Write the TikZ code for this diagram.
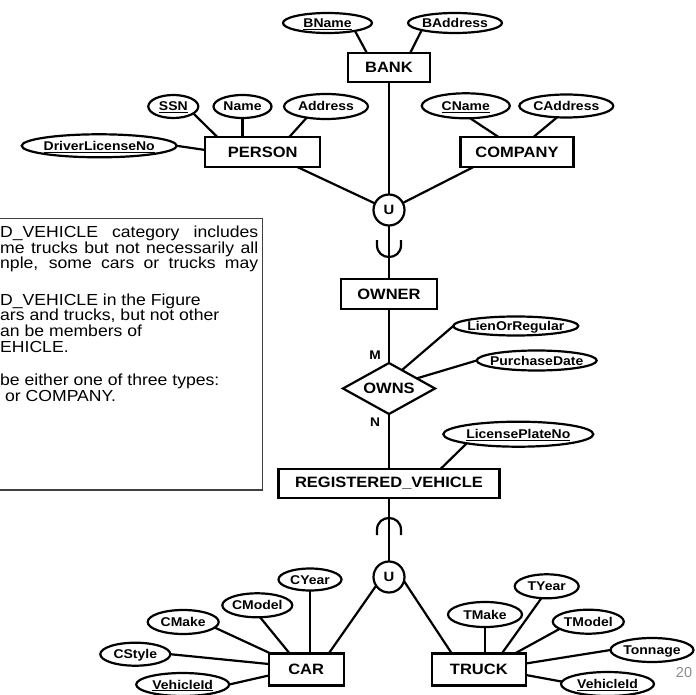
\documentclass[tikz,border=0pt]{standalone}
\usepackage{fontspec}
\setmainfont{Liberation Sans}[FakeStretch=1.1]
\newfontfamily\plainsans{Liberation Sans}
\usetikzlibrary{shapes.geometric,calc}
\newcommand{\zb}[1]{\makebox[0pt]{\raisebox{0pt}[9pt][0pt]{#1}}}
\tikzset{
  ent/.style={draw, line width=2.2pt, rectangle, inner sep=0pt, outer sep=0pt, fill=white,
    font=\fontsize{15}{17}\selectfont\bfseries},
  attr/.style={draw, line width=2.2pt, ellipse, inner sep=0pt, outer sep=0pt, fill=white,
    font=\fontsize{12.7}{14}\selectfont\bfseries},
  conn/.style={line width=2.2pt},
  uni/.style={draw, circle, line width=2.2pt, minimum size=31pt, inner sep=0pt, outer sep=0pt, fill=white,
    font=\fontsize{13.5}{15}\selectfont\bfseries},
  rel/.style={draw, diamond, aspect=1.8, line width=2.2pt, inner sep=0pt, outer sep=0pt, fill=white,
    minimum width=92pt, minimum height=51pt, font=\fontsize{15}{17}\selectfont\bfseries},
  card/.style={inner sep=0pt, font=\fontsize{12.5}{14}\selectfont\bfseries},
  notetext/.style={inner sep=0pt, anchor=base west, font=\fontsize{16}{18}\selectfont},
  notebox/.style={draw=black!75, line width=1.2pt},
  pagenum/.style={inner sep=0pt, text=black!45, font=\plainsans\fontsize{14.5}{16}\selectfont}
}
\begin{document}
\begin{tikzpicture}[x=1pt,y=-1pt]
\useasboundingbox (0,0) rectangle (696,695);

% note box (cut at the left edge)
\draw[notebox] (-10,218.3) -- (262.3,218.3) -- (262.3,490) -- (-10,490);
\node[notetext] (n1) at (0,237.3) {\makebox[258pt][s]{D\_VEHICLE category includes}};
\node[notetext] (n2) at (0,253.2) {\makebox[258pt][s]{me trucks but not necessarily all}};
\node[notetext] (n3) at (0,269) {\makebox[258pt][s]{nple, some cars or trucks may}};
\node[notetext] (n4) at (0,305) {D\_VEHICLE in the Figure};
\node[notetext] (n5) at (0,320.8) {ars and trucks, but not other};
\node[notetext] (n6) at (0,336.6) {an be members of};
\node[notetext] (n7) at (0,352.4) {EHICLE.};
\node[notetext] (n8) at (0,385.8) {be either one of three types:};
\node[notetext] (n9) at (5,401.7) {or COMPANY.};

% entities
\node[ent, minimum width=82pt, minimum height=28.5pt] (BANK) at (389,67.5) {BANK};
\node[ent, minimum width=115pt, minimum height=30pt] (PERSON) at (262.8,152) {PERSON};
\node[ent, minimum width=113pt, minimum height=30pt] (COMPANY) at (517,152) {COMPANY};
\node[ent, minimum width=96pt, minimum height=30pt] (OWNER) at (389,294.3) {OWNER};
\node[ent, minimum width=221pt, minimum height=29pt] (RV) at (389,483.5) {REGISTERED\_VEHICLE};
\node[ent, minimum width=75pt, minimum height=32pt] (CAR) at (306.2,669.5) {CAR};
\node[ent, minimum width=94pt, minimum height=32pt] (TRUCK) at (478.8,669.5) {TRUCK};

% union circles and relationship
\node[uni] (U1) at (389,210) {U};
\node[uni] (U2) at (389,577) {U};
\node[rel] (OWNS) at (389,388.5) {OWNS};
\node[card] (M) at (375,355) {M};
\node[card] (N) at (375,422.3) {N};

% attributes
\node[attr, minimum width=89pt, minimum height=20pt] (BName) at (327.5,23) {\zb{\underline{BName}}};
\node[attr, minimum width=94pt, minimum height=20pt] (BAddress) at (455,23) {\zb{BAddress}};
\node[attr, minimum width=50pt, minimum height=23pt] (SSN) at (173.3,106.5) {\zb{\underline{SSN}}};
\node[attr, minimum width=58pt, minimum height=23pt] (Name) at (242.5,106.5) {\zb{Name}};
\node[attr, minimum width=84pt, minimum height=25pt] (Address) at (326,106.5) {\zb{Address}};
\node[attr, minimum width=155pt, minimum height=23pt] (DLN) at (99.2,145.8) {\zb{\underline{DriverLicenseNo}}};
\node[attr, minimum width=88pt, minimum height=25pt] (CName) at (465.8,105.8) {\zb{\underline{CName}}};
\node[attr, minimum width=94pt, minimum height=23pt] (CAddress) at (566.3,106) {\zb{CAddress}};
\node[attr, minimum width=125pt, minimum height=19pt] (LOR) at (515.8,326) {\zb{LienOrRegular}};
\node[attr, minimum width=120pt, minimum height=20pt] (PD) at (536.7,360.5) {\zb{PurchaseDate}};
\node[attr, minimum width=150pt, minimum height=25pt] (LPN) at (518.3,434.2) {\zb{\underline{LicensePlateNo}}};
\node[attr, minimum width=63pt, minimum height=22pt] (CYear) at (310,579.5) {\zb{CYear}};
\node[attr, minimum width=70pt, minimum height=24pt] (CModel) at (257.3,605.3) {\zb{CModel}};
\node[attr, minimum width=71pt, minimum height=24pt] (CMake) at (183.2,622) {\zb{CMake}};
\node[attr, minimum width=70pt, minimum height=23pt] (CStyle) at (135.3,654.2) {\zb{CStyle}};
\node[attr, minimum width=93pt, minimum height=23pt] (VIdC) at (182.7,684.5) {\zb{\underline{VehicleId}}};
\node[attr, minimum width=64pt, minimum height=24pt] (TYear) at (546.7,586.3) {\zb{TYear}};
\node[attr, minimum width=74pt, minimum height=25pt] (TMake) at (485,614.5) {\zb{TMake}};
\node[attr, minimum width=71pt, minimum height=24pt] (TModel) at (588.3,621.7) {\zb{TModel}};
\node[attr, minimum width=83pt, minimum height=24pt] (Tonnage) at (652,650) {\zb{Tonnage}};
\node[attr, minimum width=93pt, minimum height=24pt] (VIdT) at (607.5,684) {\zb{\underline{VehicleId}}};

% connectors
\draw[conn] (BName.-16) -- ([xshift=19pt]BANK.north west);
\draw[conn] (BAddress.192) -- ([xshift=62pt]BANK.north west);
\draw[conn] (SSN.-19) -- ([xshift=12pt]PERSON.north west);
\draw[conn] (Name.south) -- (Name.south |- PERSON.north);
\draw[conn] (Address.210) -- ([xshift=84pt]PERSON.north west);
\draw[conn] (DLN.east) -- ([yshift=2pt]PERSON.west);
\draw[conn] (CName.-71) -- ([xshift=38pt]COMPANY.north west);
\draw[conn] (CAddress.231) -- ([xshift=73pt]COMPANY.north west);
\draw[conn] (BANK) -- (U1);
\draw[conn] ([xshift=92pt]PERSON.south west) -- (U1);
\draw[conn] ([xshift=13pt]COMPANY.south west) -- (U1);
\draw[conn] (U1) -- (OWNER);
\draw[conn] (OWNER) -- (OWNS);
\draw[conn] (OWNS.55) -- (LOR.west);
\draw[conn] (OWNS.20) -- (PD.west);
\draw[conn] (OWNS) -- (RV);
\draw[conn] (LPN.190) -- ([xshift=162pt]RV.north west);
\draw[conn] (RV) -- (U2);
\draw[conn] (U2.214) -- ([xshift=60pt]CAR.north west);
\draw[conn] (U2.-15) -- ([xshift=20pt]TRUCK.north west);
\draw[conn] (CYear.south) -- (CYear.south |- CAR.north);
\draw[conn] (CModel.-77) -- ([xshift=21pt]CAR.north west);
\draw[conn] (CMake.-10) -- ([xshift=2pt]CAR.north west);
\draw[conn] (CStyle.east) -- ([yshift=5.5pt]CAR.west);
\draw[conn] (VIdC.east) -- ([yshift=-6pt]CAR.west);
\draw[conn] (TYear.246) -- ([xshift=70pt]TRUCK.north west);
\draw[conn] (TMake.south) -- (TMake.south |- TRUCK.north);
\draw[conn] (TModel.194) -- ([xshift=83pt]TRUCK.north west);
\draw[conn] (Tonnage.west) -- ([yshift=6pt]TRUCK.east);
\draw[conn] (VIdT.177) -- ([yshift=-5.5pt]TRUCK.east);

% subset symbols
\draw[conn] (377,240) -- (377,245) .. controls (377,261) and (401,261) .. (401,245) -- (401,240);
\draw[conn] (377,535) -- (377,530) .. controls (377,514) and (401,514) .. (401,530) -- (401,535);

% page number
\node[pagenum, anchor=base] (pg) at (684,677.3) {20};
\end{tikzpicture}
\end{document}
